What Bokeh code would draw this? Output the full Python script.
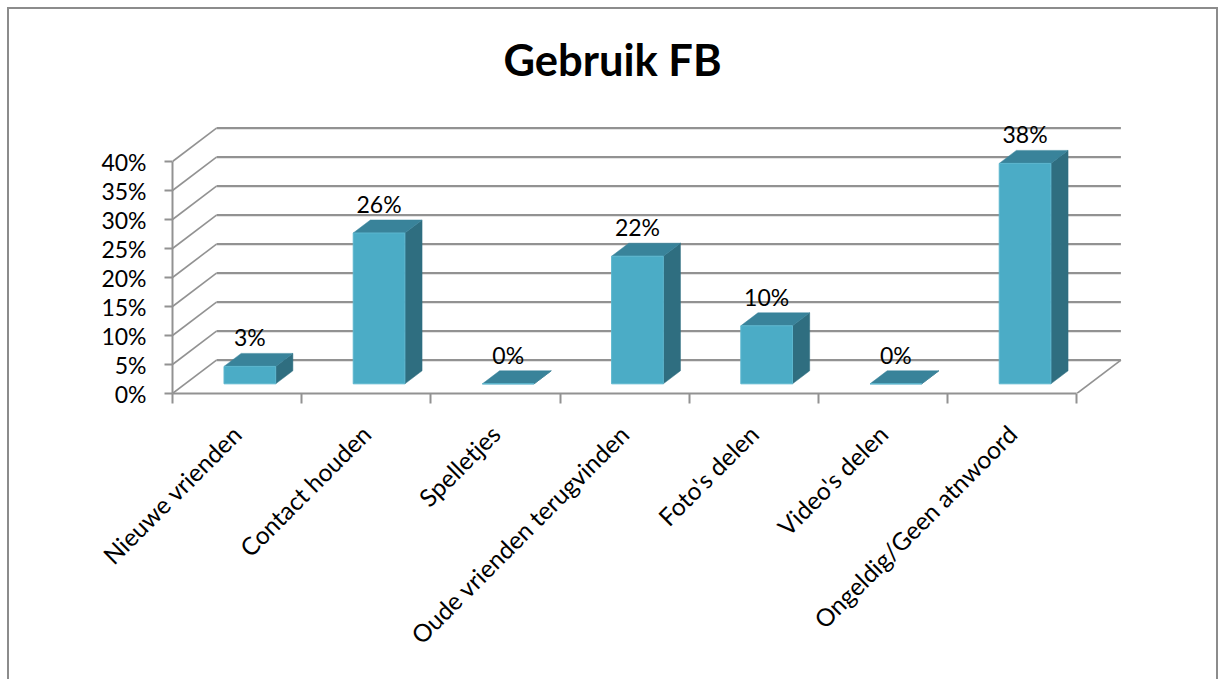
from bokeh.plotting import figure
from bokeh.models import FixedTicker, Range1d, Label, LinearAxis
from bokeh.core.properties import value
from bokeh.embed import file_html
from bokeh.resources import INLINE
import math

categories = ["Nieuwe vrienden", "Contact houden", "Spelletjes", "Oude vrienden terugvinden",
              "Foto's delen", "Video's delen", "Ongeldig/Geen atnwoord"]
percent_values = [3, 26, 0, 22, 10, 0, 38]
y_ticks = [0, 5, 10, 15, 20, 25, 30, 35, 40]

FONT = "Lato"
PX_PER_CAT = 129.2
PX_PER_PCT = 5.8
DEPTH_X = 44.0 / PX_PER_CAT     # full wall depth, in category units
DEPTH_Y = 33.4 / PX_PER_PCT     # full wall depth, in percent units
BAR_D0, BAR_D1 = 0.29, 0.68     # bar front/back in depth fraction
BAR_L, BAR_R = 0.30, 0.70       # bar left/right within a category
n = len(categories)

W, H = 1218, 679
p = figure(width=W, height=H, output_backend="svg", toolbar_location=None,
           x_axis_type=None, y_axis_type=None,
           x_range=Range1d(0, 958 / PX_PER_CAT), y_range=Range1d(0, 393 / PX_PER_PCT),
           min_border_left=172, min_border_right=W - 1130, min_border_top=0, min_border_bottom=H - 393,
           background_fill_color="white", border_fill_color="white", outline_line_color=None)
p.grid.visible = False
p.stylesheets = [":host::after{content:'';position:absolute;left:7px;top:7px;width:1207px;height:672px;"
                 "border:2px solid #8c8c8c;border-bottom:none;pointer-events:none}"]

GRID = "#929292"
# walls: diagonal on the left, horizontal on the back
p.multi_line([[0, DEPTH_X] for _ in y_ticks], [[v, v + DEPTH_Y] for v in y_ticks],
             line_color=GRID, line_width=1.6)
p.multi_line([[DEPTH_X, n + DEPTH_X] for _ in y_ticks], [[v + DEPTH_Y] * 2 for v in y_ticks],
             line_color=GRID, line_width=2.2)
p.line([n, n + DEPTH_X], [0, DEPTH_Y], line_color=GRID, line_width=1.6)


def px(i, frac, d):
    return i + frac + d * DEPTH_X


def py(v, d):
    return v + d * DEPTH_Y


front_x, front_y, side_x, side_y, top_x, top_y = [], [], [], [], [], []
for i, v in enumerate(percent_values):
    front_x.append([px(i, BAR_L, BAR_D0), px(i, BAR_R, BAR_D0), px(i, BAR_R, BAR_D0), px(i, BAR_L, BAR_D0)])
    front_y.append([py(0, BAR_D0), py(0, BAR_D0), py(v, BAR_D0), py(v, BAR_D0)])
    side_x.append([px(i, BAR_R, BAR_D0), px(i, BAR_R, BAR_D1), px(i, BAR_R, BAR_D1), px(i, BAR_R, BAR_D0)])
    side_y.append([py(0, BAR_D0), py(0, BAR_D1), py(v, BAR_D1), py(v, BAR_D0)])
    top_x.append([px(i, BAR_L, BAR_D0), px(i, BAR_R, BAR_D0), px(i, BAR_R, BAR_D1), px(i, BAR_L, BAR_D1)])
    top_y.append([py(v, BAR_D0), py(v, BAR_D0), py(v, BAR_D1), py(v, BAR_D1)])

p.patches(side_x, side_y, fill_color="#2f6e80", line_color="#2f6e80", line_width=0.5)
p.patches(top_x, top_y, fill_color="#39839a", line_color="#39839a", line_width=0.5)
p.patches(front_x, front_y, fill_color="#4bacc6", line_color="#5cb6ce", line_width=1)

# data labels
p.text([i + 0.5 + BAR_D0 * DEPTH_X for i in range(n)],
       [py(v, BAR_D1) for v in percent_values],
       text=[f"{v}%" for v in percent_values],
       text_font=value(FONT), text_font_size="23px", text_color="black",
       text_align="center", text_baseline="bottom", y_offset=-2)

# value axis
ya = LinearAxis(ticker=FixedTicker(ticks=y_ticks), bounds=(0, 40),
                major_label_overrides={v: f"{v}%" for v in y_ticks})
ya.axis_line_color = GRID
ya.axis_line_width = 2
ya.major_tick_line_color = GRID
ya.major_tick_line_width = 2
ya.major_tick_out = 8
ya.major_tick_in = 0
ya.minor_tick_line_color = None
ya.major_label_standoff = 18
ya.major_label_text_font = FONT
ya.major_label_text_font_size = "23px"
ya.major_label_text_color = "black"
p.add_layout(ya, "left")

# category axis
centers = [i + 0.5 for i in range(n)]
xa = LinearAxis(ticker=FixedTicker(ticks=centers, minor_ticks=list(range(n + 1))), bounds=(0, n),
                major_label_overrides=dict(zip(centers, categories)),
                major_label_orientation=math.pi / 4)
xa.axis_line_color = GRID
xa.axis_line_width = 2
xa.major_tick_line_color = None
xa.major_tick_out = 0
xa.major_tick_in = 0
xa.minor_tick_line_color = GRID
xa.minor_tick_line_width = 2
xa.minor_tick_out = 10
xa.minor_tick_in = 0
xa.major_label_standoff = 26
xa.major_label_text_font = FONT
xa.major_label_text_font_size = "24.5px"
xa.major_label_text_color = "black"
p.add_layout(xa, "below")

p.add_layout(Label(x=440, y=335, x_units="screen", y_units="screen", text="Gebruik FB",
                   text_font=FONT, text_font_size="43.5px", text_font_style="bold",
                   text_color="black", text_align="center", text_baseline="middle"))

open("out.html", "w").write(file_html(p, INLINE))
